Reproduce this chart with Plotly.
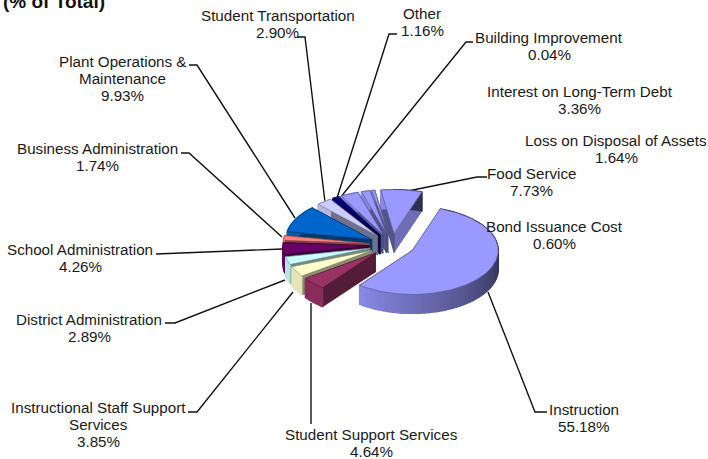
import math
import plotly.graph_objects as go

categories = ["Instruction", "Student Support Services", "Instructional Staff Support Services",
              "District Administration", "School Administration", "Business Administration",
              "Plant Operations & Maintenance", "Student Transportation", "Other",
              "Building Improvement", "Interest on Long-Term Debt", "Loss on Disposal of Assets",
              "Bond Issuance Cost", "Food Service"]
values = [55.18, 4.64, 3.85, 2.89, 4.26, 1.74, 9.93, 2.90, 1.16, 0.04, 3.36, 1.64, 0.60, 7.73]
colors = ["#9999FF", "#993366", "#FFFFCC", "#CCFFFF", "#660066", "#FF8080", "#0066CC",
          "#CCCCFF", "#000080", "#9999FF", "#9999FF", "#9999FF", "#9999FF", "#9999FF"]

# Label layout: text lines, centre x, y of each line
label_layout = {
    "Instruction": (["Instruction"], 584, 409),
    "Student Support Services": (["Student Support Services"], 371, 434),
    "Instructional Staff Support Services": (["Instructional Staff Support", "Services"], 98, 407),
    "District Administration": (["District Administration"], 89, 319),
    "School Administration": (["School Administration"], 80, 249),
    "Business Administration": (["Business Administration"], 97.5, 148),
    "Plant Operations & Maintenance": (["Plant Operations &", "Maintenance"], 122, 61),
    "Student Transportation": (["Student Transportation"], 277.5, 15),
    "Other": (["Other"], 422, 13),
    "Building Improvement": (["Building Improvement"], 549, 37),
    "Interest on Long-Term Debt": (["Interest on Long-Term Debt"], 579.5, 91),
    "Loss on Disposal of Assets": (["Loss on Disposal of Assets"], 616, 140),
    "Food Service": (["Food Service"], 531, 173),
    "Bond Issuance Cost": (["Bond Issuance Cost"], 554, 226),
}
leaders = [
    [(547, 412), (535, 412), (488, 292)],
    [(311, 424), (311, 303)],
    [(188, 412), (197, 412), (293, 292)],
    [(165, 323), (175, 323), (285, 280)],
    [(156, 254), (282, 249)],
    [(181, 153), (189, 153), (282, 237)],
    [(189, 65), (197, 65), (295, 218)],
    [(297, 37), (305, 37), (325, 202)],
    [(397, 34), (389, 34), (337, 198)],
    [(473, 42), (466, 42), (340, 198)],
    [(487, 177), (477, 177), (403, 192)],
]

CX, CY, RX, RY = 392, 245, 86, 44
EX, EY = 23, 11.5
DEPTH = 19
START = 19.0


def shade(hex_color, f):
    r, g, b = (int(hex_color[i:i + 2], 16) for i in (1, 3, 5))
    return f"rgb({int(r * f)},{int(g * f)},{int(b * f)})"


def pt(ang, ax, ay):
    a = math.radians(ang)
    return ax + RX * math.sin(a), ay - RY * math.cos(a)


def wall_factor(ang):
    t = (ang % 360 - 90) / 127
    return 0.32 + 0.58 * max(0.0, min(1.0, t))


total = sum(values)
slices = []
acc = START
for name, val, col in zip(categories, values, colors):
    a0 = acc
    a1 = acc + val / total * 360
    acc = a1
    mid = (a0 + a1) / 2
    m = math.radians(mid)
    slices.append(dict(name=name, val=val, col=col, a0=a0, a1=a1, mid=mid,
                       ax=CX + EX * math.sin(m), ay=CY - EY * math.cos(m)))

fig = go.Figure()


def poly(xs, ys, fill, line, name, width=0.6):
    fig.add_trace(go.Scatter(x=xs + xs[:1], y=ys + ys[:1], mode="lines", fill="toself",
                             fillcolor=fill, line=dict(color=line, width=width),
                             hoverinfo="text", text=name, showlegend=False))


for s in sorted(slices, key=lambda s: s["ay"]):
    ax, ay, a0, a1, col = s["ax"], s["ay"], s["a0"], s["a1"], s["col"]
    label = f'{s["name"]}: {s["val"]:.2f}%'
    # radial walls
    for ang in (a1, a0):
        px, py = pt(ang, ax, ay)
        f = 0.72 if ang % 360 < 90 else 0.55
        poly([ax, px, px, ax], [ay, py, py + DEPTH, ay + DEPTH], shade(col, f), shade(col, f * 0.8), label)
    # outer wall in shaded strips, each overlapping the next so no seams show
    n = max(1, int((a1 - a0) / 2))
    for i in range(n):
        b0 = a0 + (a1 - a0) * i / n
        b1 = a0 + (a1 - a0) * (i + 1) / n
        x0, y0 = pt(b0, ax, ay)
        x1, y1 = pt(b1, ax, ay)
        c = shade(col, wall_factor((b0 + b1) / 2))
        poly([x0, x1, x1, x0], [y0, y1, y1 + DEPTH, y0 + DEPTH], c, c, label, 1.2)
    # top face
    n = max(2, int((a1 - a0) / 1.5))
    xs, ys = [ax], [ay]
    for i in range(n + 1):
        x, y = pt(a0 + (a1 - a0) * i / n, ax, ay)
        xs.append(x)
        ys.append(y)
    poly(xs, ys, col, shade(col, 0.55), label)

annotations = []
LINE_H = 17
for name, val in zip(categories, values):
    lines, cx, y0 = label_layout[name]
    for i, txt in enumerate(lines + [f"{val:.2f}%"]):
        annotations.append(dict(x=cx, y=y0 + i * LINE_H, xref="x", yref="y", text=txt.replace("&", "&amp;"),
                                showarrow=False, xanchor="center", yanchor="middle",
                                font=dict(family="Liberation Sans", size=15.2, color="#1a1a1a")))
annotations.append(dict(x=1, y=1, xref="x", yref="y", text="<b>(% of Total)</b>", showarrow=False,
                        xanchor="left", yanchor="middle",
                        font=dict(family="Liberation Sans", size=19, color="#111111")))

shapes = []
for pts in leaders:
    path = "M " + " L ".join(f"{x},{y}" for x, y in pts)
    shapes.append(dict(type="path", path=path, xref="x", yref="y", layer="below",
                       line=dict(color="#111111", width=1.4)))

fig.update_layout(
    width=708, height=459, margin=dict(l=0, r=0, t=0, b=0),
    paper_bgcolor="white", plot_bgcolor="white", showlegend=False,
    xaxis=dict(range=[0, 708], visible=False, fixedrange=True),
    yaxis=dict(range=[459, 0], visible=False, fixedrange=True),
    annotations=annotations, shapes=shapes,
)
fig.write_html("out.html", config={"displayModeBar": False},
               post_script="document.body.style.margin='0';")
